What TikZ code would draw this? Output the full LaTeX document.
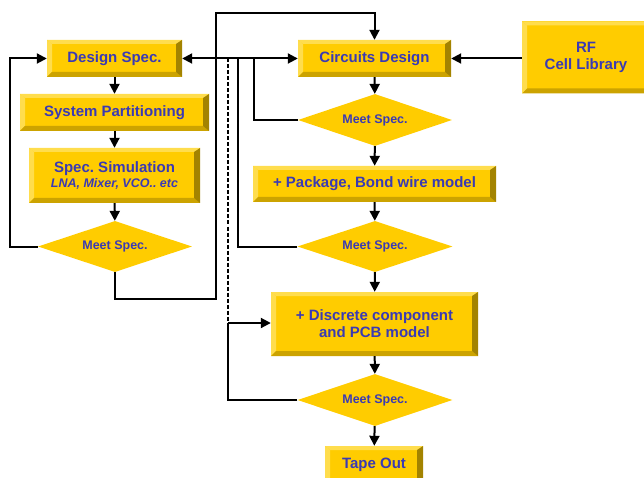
\documentclass[tikz,border=0pt]{standalone}
\usepackage{fontspec}
\setmainfont{Liberation Sans}
\usetikzlibrary{shapes.geometric,arrows.meta,calc}
\definecolor{gold}{HTML}{FFCC00}
\definecolor{goldlight}{HTML}{FFDD4D}
\definecolor{golddark}{HTML}{CCA300}
\definecolor{golddarker}{HTML}{A38300}
\definecolor{txtblue}{HTML}{3A3AB4}
\frenchspacing
\tikzset{
  bevelbox/.style={fill=gold, inner sep=0pt, text=txtblue, align=center,
    font=\fontsize{15}{17}\selectfont\bfseries,
    path picture={
      \fill[goldlight] (path picture bounding box.north west) -- (path picture bounding box.north east)
        -- ([xshift=-5pt,yshift=-4pt]path picture bounding box.north east)
        -- ([xshift=5pt,yshift=-4pt]path picture bounding box.north west) -- cycle;
      \fill[goldlight] (path picture bounding box.north west) -- (path picture bounding box.south west)
        -- ([xshift=5pt,yshift=5pt]path picture bounding box.south west)
        -- ([xshift=5pt,yshift=-4pt]path picture bounding box.north west) -- cycle;
      \fill[golddark] (path picture bounding box.south west) -- (path picture bounding box.south east)
        -- ([xshift=-6pt,yshift=5pt]path picture bounding box.south east)
        -- ([xshift=5pt,yshift=5pt]path picture bounding box.south west) -- cycle;
      \fill[golddarker] (path picture bounding box.north east) -- (path picture bounding box.south east)
        -- ([xshift=-6pt,yshift=5pt]path picture bounding box.south east)
        -- ([xshift=-6pt,yshift=-4pt]path picture bounding box.north east) -- cycle;
    }},
  decision/.style={diamond, shape aspect=3, fill=gold, inner sep=0pt, text=txtblue,
    font=\fontsize{12.5}{14}\selectfont\bfseries},
  conn/.style={draw=black, line width=2pt},
  arr/.style={conn, -{Triangle[length=10pt,width=10pt]}},
  darr/.style={conn, {Triangle[length=10pt,width=10pt]}-{Triangle[length=10pt,width=10pt]}},
}
\begin{document}
\begin{tikzpicture}[x=1pt,y=-1pt]
\useasboundingbox (0,0) rectangle (644,478);
\clip (0,0) rectangle (644,478);
% boxes
\node[bevelbox, minimum width=135pt, minimum height=37pt] (ds) at (114.5,58.5) {Design Spec.};
\node[bevelbox, minimum width=189pt, minimum height=37pt] (sp) at (114.5,112.5) {System Partitioning};
\node[bevelbox, minimum width=171pt, minimum height=55pt] (ss) at (114.5,175.5)
  {Spec. Simulation\\[-2pt]{\fontsize{12.5}{14}\selectfont\bfseries\itshape LNA, Mixer, VCO.. etc}};
\node[bevelbox, minimum width=153pt, minimum height=37pt] (cd) at (374.5,58.5) {Circuits Design};
\node[bevelbox, minimum width=128pt, minimum height=72pt] (rf) at (586,57.5) {RF\\Cell Library};
\node[bevelbox, minimum width=243pt, minimum height=36pt] (pk) at (374.5,184) {+ Package, Bond wire model};
\node[bevelbox, minimum width=207pt, minimum height=64pt] (dc) at (374.5,324) {+ Discrete component\\and PCB model};
\node[bevelbox, minimum width=98pt, minimum height=38pt] (to) at (374,465) {Tape Out};
% decisions
\node[decision, minimum width=154pt, minimum height=51pt] (m0) at (115,246.5) {Meet Spec.};
\node[decision, minimum width=154pt, minimum height=52pt] (m1) at (375,120) {Meet Spec.};
\node[decision, minimum width=155pt, minimum height=51pt] (m2) at (375,246.5) {Meet Spec.};
\node[decision, minimum width=155pt, minimum height=52pt] (m3) at (375,400) {Meet Spec.};
% helper coordinates
\coordinate (lft) at (10,246.5);
\coordinate (b0) at (115,299);
\coordinate (b1) at (216,299);
\coordinate (t1) at (216,13);
\coordinate (j1) at (254,58.5);
\coordinate (j2) at (238,58.5);
\coordinate (j3) at (228,58.5);
\coordinate (k3) at (228,323);
% connectors
\draw[arr] (ds) -- (sp);
\draw[arr] (sp) -- (ss);
\draw[arr] (ss) -- (m0);
\draw[arr] (m0.west) -- (lft) |- (ds.west);
\draw[arr] (m0.south) -- (b0) -- (b1) -- (t1) -| (cd.north);
\draw[darr] (ds.east) -- (cd.west);
\draw[arr] (rf.west |- cd.east) -- (cd.east);
\draw[arr] (cd) -- (m1);
\draw[conn] (m1.west) -| (j1);
\draw[arr] (m1) -- (pk);
\draw[arr] (pk) -- (m2);
\draw[conn] (m2.west) -| (j2);
\draw[arr] (m2) -- (dc);
\draw[line width=2pt, dash pattern=on 4pt off 2pt] (j3) -- (k3);
\draw[conn] (m3.west) -| (k3);
\draw[arr] (k3) -- (k3 -| dc.west);
\draw[arr] (dc) -- (m3);
\draw[arr] (m3) -- (to);
\end{tikzpicture}
\end{document}
